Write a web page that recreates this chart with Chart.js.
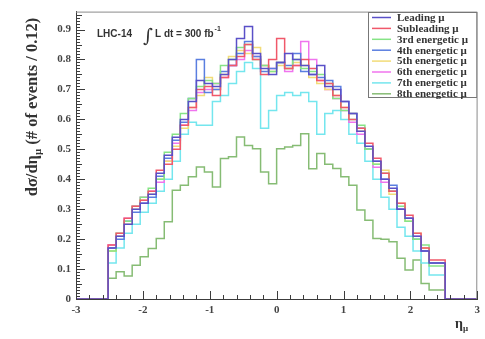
<!DOCTYPE html>
<html><head><meta charset="utf-8">
<script src="https://cdn.jsdelivr.net/npm/chart.js@4.4.0/dist/chart.umd.min.js"></script>
<style>html,body{margin:0;padding:0;background:#fff;}#wrap{width:485px;height:339px;}</style>
</head><body><div id="wrap"><canvas id="c" width="485" height="339"></canvas></div>
<script>
// ---- data ----
const binLow = -2.52, binWidth = 0.12, nBins = 42;
const seriesLabels = ["Leading \u03bc","Subleading \u03bc","3rd energetic \u03bc","4th energetic \u03bc","5th energetic \u03bc","6th energetic \u03bc","7th energetic \u03bc","8th energetic \u03bc"];
const seriesColors = ["#5a50c8","#f0586a","#86e486","#5a7ee0","#f2dc78","#f074ee","#74e6ee","#86bc74"];
const leading    = [0.135,0.17,0.21,0.25,0.30,0.32,0.35,0.42,0.48,0.54,0.60,0.66,0.73,0.72,0.71,0.75,0.80,0.87,0.91,0.82,0.77,0.75,0.79,0.82,0.80,0.78,0.75,0.78,0.71,0.70,0.66,0.62,0.56,0.51,0.46,0.40,0.37,0.30,0.27,0.21,0.16,0.12];
const subleading = [0.13,0.18,0.22,0.27,0.31,0.33,0.36,0.43,0.45,0.50,0.58,0.64,0.70,0.71,0.68,0.74,0.78,0.81,0.85,0.80,0.75,0.80,0.87,0.77,0.78,0.80,0.77,0.73,0.72,0.68,0.64,0.60,0.57,0.52,0.47,0.42,0.36,0.32,0.28,0.22,0.17,0.13];
const third      = [0.12,0.16,0.22,0.26,0.31,0.34,0.37,0.40,0.49,0.55,0.62,0.67,0.71,0.73,0.72,0.78,0.80,0.84,0.85,0.80,0.78,0.76,0.79,0.77,0.80,0.77,0.76,0.75,0.72,0.67,0.63,0.60,0.58,0.50,0.45,0.42,0.36,0.31,0.26,0.20,0.18,0.11];
const fourth     = [0.13,0.17,0.20,0.26,0.29,0.32,0.34,0.41,0.47,0.53,0.59,0.67,0.80,0.69,0.70,0.76,0.78,0.82,0.86,0.81,0.76,0.77,0.79,0.78,0.82,0.76,0.75,0.74,0.73,0.71,0.66,0.62,0.57,0.50,0.46,0.40,0.38,0.30,0.27,0.20,0.16,0.12];
const fifth      = [0.12,0.16,0.21,0.25,0.30,0.33,0.35,0.40,0.46,0.51,0.57,0.64,0.68,0.74,0.70,0.75,0.81,0.83,0.82,0.84,0.78,0.76,0.78,0.77,0.79,0.78,0.74,0.72,0.70,0.68,0.64,0.62,0.56,0.50,0.45,0.43,0.35,0.32,0.26,0.22,0.17,0.12];
const sixth      = [0.11,0.18,0.21,0.27,0.31,0.34,0.36,0.39,0.46,0.52,0.58,0.63,0.69,0.70,0.72,0.74,0.78,0.80,0.83,0.81,0.78,0.77,0.79,0.76,0.78,0.86,0.80,0.73,0.70,0.67,0.63,0.59,0.55,0.50,0.44,0.39,0.36,0.30,0.27,0.21,0.16,0.12];
const seventh    = [0.10,0.12,0.17,0.22,0.25,0.29,0.32,0.36,0.40,0.46,0.55,0.59,0.58,0.58,0.66,0.68,0.72,0.76,0.79,0.77,0.57,0.63,0.68,0.69,0.68,0.69,0.66,0.55,0.62,0.63,0.60,0.55,0.52,0.46,0.40,0.34,0.30,0.24,0.21,0.16,0.12,0.08];
const eighth     = [0.041,0.069,0.091,0.077,0.113,0.141,0.169,0.202,0.258,0.363,0.38,0.408,0.441,0.424,0.374,0.469,0.475,0.541,0.513,0.502,0.424,0.385,0.502,0.508,0.513,0.552,0.435,0.486,0.45,0.436,0.408,0.38,0.297,0.263,0.202,0.2,0.191,0.136,0.097,0.13,0.052,0.03];
const xTickLabels = [-3,-2,-1,0,1,2,3];
const yTickLabels = [0,0.1,0.2,0.3,0.4,0.5,0.6,0.7,0.8,0.9];
const seriesValues = [leading,subleading,third,fourth,fifth,sixth,seventh,eighth];

function steps(vals){
  const pts=[{x:-3,y:0},{x:binLow,y:0}];
  for(let i=0;i<vals.length;i++) pts.push({x:binLow+i*binWidth,y:vals[i]});
  const hi=binLow+vals.length*binWidth;
  pts.push({x:hi,y:vals[vals.length-1]});
  pts.push({x:hi,y:0});
  pts.push({x:3,y:0});
  return pts;
}
const datasets = seriesValues.map((v,i)=>({
  label: seriesLabels[i], data: steps(v), borderColor: seriesColors[i],
  borderWidth: 1.5, pointRadius: 0, stepped: 'after', fill:false, tension:0,
  order: i===0 ? -1 : i
})).reverse();

const AX='#3c3c3c';
const deco = {
  id:'deco',
  afterDraw(chart){
    const ctx=chart.ctx, a=chart.chartArea, xs=chart.scales.x, ys=chart.scales.y;
    ctx.save();
    // frame top/right
    ctx.strokeStyle='#8a8a8a'; ctx.lineWidth=1;
    ctx.beginPath(); ctx.moveTo(a.left,a.top+0.5); ctx.lineTo(a.right,a.top+0.5); ctx.lineTo(a.right-0.5,a.bottom); ctx.stroke();
    // ticks
    ctx.strokeStyle=AX; ctx.lineWidth=1;
    ctx.beginPath();
    for(let k=0;k<=95;k++){
      const v=k/100, y=Math.round(ys.getPixelForValue(v))+0.5;
      const len = k%10===0 ? 9 : (k%5===0 ? 6 : 4);
      ctx.moveTo(a.left,y); ctx.lineTo(a.left+len,y);
    }
    for(let k=-15;k<=15;k++){
      const v=k/5, x=Math.round(xs.getPixelForValue(v))+0.5;
      const len = k%5===0 ? 8 : 4;
      ctx.moveTo(x,a.bottom); ctx.lineTo(x,a.bottom-len);
    }
    ctx.stroke();
    // legend
    const lx=368, ly=12, lw=a.right-368, lh=86;
    ctx.fillStyle='#fff'; ctx.fillRect(lx,ly,lw,lh);
    ctx.strokeStyle='#777'; ctx.strokeRect(lx+0.5,ly+0.5,lw-1,lh-1);
    ctx.font='bold 11px "Liberation Serif"'; ctx.textBaseline='middle'; ctx.textAlign='left';
    for(let i=0;i<seriesLabels.length;i++){
      const y=17.5+i*10.9;
      ctx.strokeStyle=seriesColors[i]; ctx.lineWidth=1.5;
      ctx.beginPath(); ctx.moveTo(372,y); ctx.lineTo(391,y); ctx.stroke();
      ctx.fillStyle='#333'; ctx.fillText(seriesLabels[i],397,y+0.5);
    }
    // LHC label
    ctx.fillStyle='#333'; ctx.textBaseline='alphabetic';
    ctx.font='bold 10px "Liberation Sans"'; ctx.fillText('LHC-14',97,37);
    ctx.font='19px "DejaVu Serif"'; ctx.fillText('\u222b',143,42);
    ctx.font='bold 10px "Liberation Sans"'; ctx.fillText('L dt = 300 fb',155,37);
    const w=ctx.measureText('L dt = 300 fb').width;
    ctx.font='bold 7px "Liberation Sans"'; ctx.fillText('-1',155+w+1,31);
    // y title
    ctx.save(); ctx.translate(37,107); ctx.rotate(-Math.PI/2);
    const big='bold 16.5px "Liberation Serif"', small='bold 11px "Liberation Serif"';
    const p1='d\u03c3/d\u03b7', p2='\u03bc', p3=' (# of events / 0.12)';
    ctx.font=big; const w1=ctx.measureText(p1).width, w3=ctx.measureText(p3).width;
    ctx.font=small; const w2=ctx.measureText(p2).width;
    let x0=-(w1+w2+w3)/2;
    ctx.fillStyle='#333';
    ctx.font=big; ctx.fillText(p1,x0,0);
    ctx.font=small; ctx.fillText(p2,x0+w1,4);
    ctx.font=big; ctx.fillText(p3,x0+w1+w2,0);
    ctx.restore();
    // x title
    ctx.font='bold 14px "Liberation Serif"'; ctx.fillStyle='#333';
    ctx.fillText('\u03b7',455,328);
    ctx.font='bold 9px "Liberation Serif"'; ctx.fillText('\u03bc',463,331);
    ctx.restore();
  }
};

new Chart(document.getElementById('c'), {
  type:'line',
  data:{datasets},
  options:{
    responsive:false, animation:false, devicePixelRatio:1,
    layout:{padding:{top:11,right:1,left:0,bottom:0}},
    plugins:{legend:{display:false}, tooltip:{enabled:false}},
    scales:{
      x:{type:'linear', min:-3, max:3,
        afterBuildTicks(s){ s.ticks = xTickLabels.map(v=>({value:v})); },
        afterFit(s){ s.height=40; },
        grid:{display:false, drawTicks:false},
        border:{display:true,color:AX,width:1},
        ticks:{padding:5, color:'#444', font:{family:'"Liberation Serif"',size:11,weight:'bold'}, maxRotation:0, autoSkip:false}
      },
      y:{type:'linear', min:0, max:0.96,
        afterBuildTicks(s){ s.ticks = yTickLabels.map(v=>({value:v})); },
        afterFit(s){ s.width=76; },
        grid:{display:false, drawTicks:false},
        border:{display:true,color:AX,width:1},
        ticks:{padding:5, color:'#444', font:{family:'"Liberation Serif"',size:11,weight:'bold'},
          callback:(v)=> v===0 ? '0' : String(Math.round(v*10)/10)}
      }
    }
  },
  plugins:[deco]
});
</script></body></html>
